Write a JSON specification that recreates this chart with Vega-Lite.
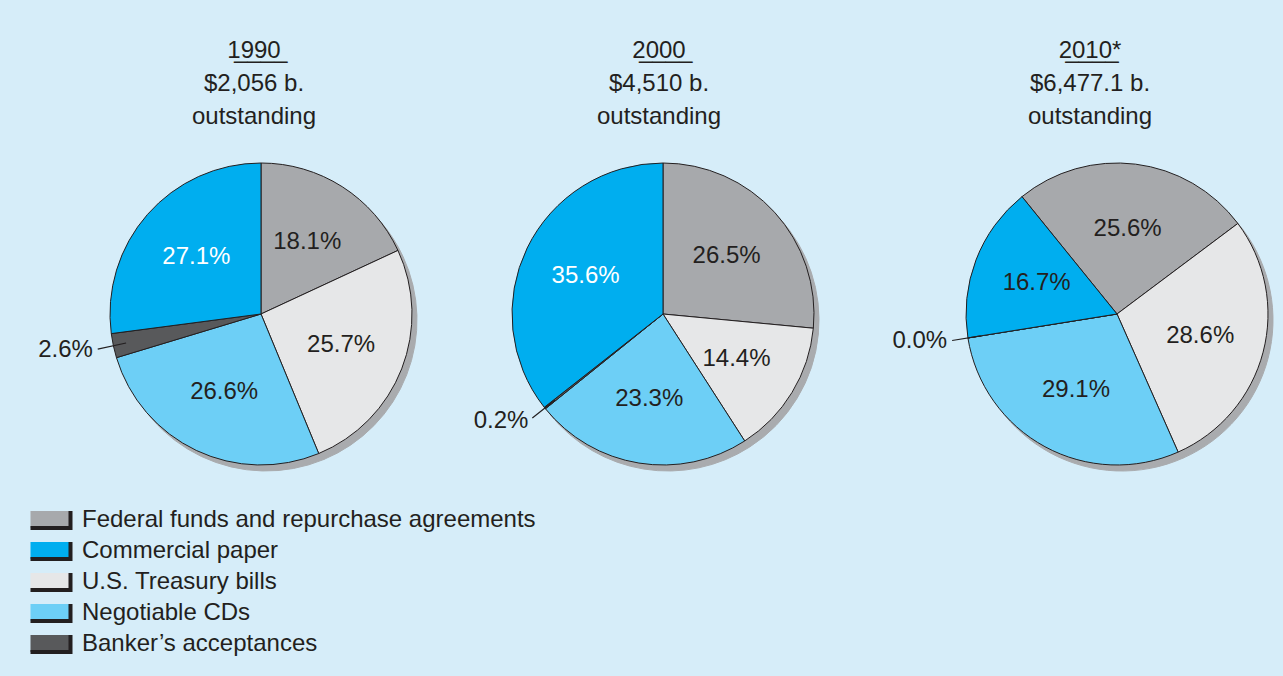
{
  "$schema": "https://vega.github.io/schema/vega-lite/v6.json",
  "background": "#d6edf9",
  "padding": {"left": 36, "right": 0, "top": 39, "bottom": 25},
  "bounds": "flush",
  "data": {
    "values": [
      {"year": 1990, "category": "Federal funds and repurchase agreements", "k": 1, "share": 0.181},
      {"year": 1990, "category": "U.S. Treasury bills", "k": 2, "share": 0.257},
      {"year": 1990, "category": "Negotiable CDs", "k": 3, "share": 0.266},
      {"year": 1990, "category": "Banker’s acceptances", "k": 4, "share": 0.026},
      {"year": 1990, "category": "Commercial paper", "k": 5, "share": 0.271},
      {"year": 2000, "category": "Federal funds and repurchase agreements", "k": 1, "share": 0.265},
      {"year": 2000, "category": "U.S. Treasury bills", "k": 2, "share": 0.144},
      {"year": 2000, "category": "Negotiable CDs", "k": 3, "share": 0.233},
      {"year": 2000, "category": "Banker’s acceptances", "k": 4, "share": 0.002},
      {"year": 2000, "category": "Commercial paper", "k": 5, "share": 0.356},
      {"year": 2010, "category": "Federal funds and repurchase agreements", "k": 1, "share": 0.256},
      {"year": 2010, "category": "U.S. Treasury bills", "k": 2, "share": 0.286},
      {"year": 2010, "category": "Negotiable CDs", "k": 3, "share": 0.291},
      {"year": 2010, "category": "Banker’s acceptances", "k": 4, "share": 0.0},
      {"year": 2010, "category": "Commercial paper", "k": 5, "share": 0.167}
    ]
  },
  "spacing": 138,
  "resolve": {"scale": {"theta": "independent"}},
  "hconcat": [
    {
      "width": 228,
      "height": 346,
      "title": {"text": ["1\u03329\u03329\u03320\u0332", "$2,056 b.", "outstanding"], "dx": -7},
      "transform": [{"filter": "datum.year === 1990"}],
      "encoding": {
        "theta": {"field": "share", "type": "quantitative", "stack": true},
        "order": {"field": "k", "type": "quantitative"}
      },
      "layer": [
        {"mark": {"type": "arc", "radius": 151, "xOffset": 5, "yOffset": 6, "fill": "#a9abae", "stroke": "#a9abae", "strokeWidth": 1}},
        {"mark": {"type": "arc", "radius": 151, "stroke": "#231f20", "strokeWidth": 1},
         "encoding": {"color": {"field": "category", "type": "nominal", "title": null,
           "scale": {"domain": ["Federal funds and repurchase agreements", "Commercial paper", "U.S. Treasury bills", "Negotiable CDs", "Banker’s acceptances"],
                     "range": ["#a7a9ac", "#00aeef", "#e6e7e8", "#6dcff6", "#58595b"]}}}},
        {"mark": {"type": "text", "radius": 86, "fontSize": 24, "font": "Liberation Sans"},
         "encoding": {
           "text": {"condition": {"test": "datum.share < 0.05", "value": ""}, "field": "share", "type": "quantitative", "format": ".1%"},
           "fill": {"condition": {"test": "datum.k === 5", "value": "#ffffff"}, "value": "#231f20"}
         }},
        {"mark": {"type": "text", "radius": 172, "align": "right", "baseline": "middle", "fontSize": 24, "font": "Liberation Sans", "fill": "#231f20"},
         "encoding": {"text": {"condition": {"test": "datum.k !== 4", "value": ""}, "field": "share", "type": "quantitative", "format": ".1%"}}},
        {"mark": {"type": "arc", "radius": 167, "radius2": 138, "padAngle": 0.6, "fill": "transparent", "strokeWidth": 1.2},
         "encoding": {"stroke": {"condition": {"test": "datum.k === 4", "value": "#231f20"}, "value": "transparent"}}}
      ]
    },
    {
      "width": 300,
      "height": 346,
      "title": {"text": ["2\u03320\u03320\u03320\u0332", "$4,510 b.", "outstanding"], "dx": -4},
      "transform": [{"filter": "datum.year === 2000"}],
      "encoding": {
        "theta": {"field": "share", "type": "quantitative", "stack": true},
        "order": {"field": "k", "type": "quantitative"}
      },
      "layer": [
        {"mark": {"type": "arc", "radius": 151, "xOffset": 5, "yOffset": 6, "fill": "#a9abae", "stroke": "#a9abae", "strokeWidth": 1}},
        {"mark": {"type": "arc", "radius": 151, "stroke": "#231f20", "strokeWidth": 1},
         "encoding": {"color": {"field": "category", "type": "nominal", "title": null}}},
        {"mark": {"type": "text", "radius": 86, "fontSize": 24, "font": "Liberation Sans"},
         "encoding": {
           "text": {"condition": {"test": "datum.share < 0.05", "value": ""}, "field": "share", "type": "quantitative", "format": ".1%"},
           "fill": {"condition": {"test": "datum.k === 5", "value": "#ffffff"}, "value": "#231f20"}
         }},
        {"mark": {"type": "text", "radius": 172, "align": "right", "baseline": "middle", "fontSize": 24, "font": "Liberation Sans", "fill": "#231f20"},
         "encoding": {"text": {"condition": {"test": "datum.k !== 4", "value": ""}, "field": "share", "type": "quantitative", "format": ".1%"}}},
        {"mark": {"type": "arc", "radius": 167, "radius2": 138, "padAngle": 0.6, "fill": "transparent", "strokeWidth": 1.2},
         "encoding": {"stroke": {"condition": {"test": "datum.k === 4", "value": "#231f20"}, "value": "transparent"}}}
      ]
    },
    {
      "width": 332,
      "height": 346,
      "title": {"text": ["2\u03320\u03321\u03320\u0332*", "$6,477.1 b.", "outstanding"], "dx": -27, "dy": 10},
      "transform": [{"filter": "datum.year === 2010"}],
      "encoding": {
        "theta": {"field": "share", "type": "quantitative", "stack": true, "scale": {"range": [-0.6807, 5.6025]}},
        "order": {"field": "k", "type": "quantitative"}
      },
      "layer": [
        {"mark": {"type": "arc", "radius": 151, "xOffset": 5, "yOffset": 6, "fill": "#a9abae", "stroke": "#a9abae", "strokeWidth": 1}},
        {"mark": {"type": "arc", "radius": 151, "stroke": "#231f20", "strokeWidth": 1},
         "encoding": {"color": {"field": "category", "type": "nominal", "title": null}}},
        {"mark": {"type": "text", "radius": 86, "fontSize": 24, "font": "Liberation Sans", "fill": "#231f20"},
         "encoding": {
           "text": {"condition": {"test": "datum.share < 0.05", "value": ""}, "field": "share", "type": "quantitative", "format": ".1%"}
         }},
        {"mark": {"type": "text", "radius": 172, "align": "right", "baseline": "middle", "fontSize": 24, "font": "Liberation Sans", "fill": "#231f20"},
         "encoding": {"text": {"condition": {"test": "datum.k !== 4", "value": ""}, "field": "share", "type": "quantitative", "format": ".1%"}}},
        {"mark": {"type": "arc", "radius": 167, "radius2": 138, "padAngle": 0.6, "fill": "transparent", "strokeWidth": 1.2},
         "encoding": {"stroke": {"condition": {"test": "datum.k === 4", "value": "#231f20"}, "value": "transparent"}}}
      ]
    }
  ],
  "config": {
    "view": {"stroke": null},
    "font": "Liberation Sans",
    "title": {"font": "Liberation Sans", "fontSize": 24, "fontWeight": "normal", "color": "#231f20", "lineHeight": 33, "offset": 12, "anchor": "middle"},
    "legend": {
      "orient": "none",
      "legendX": -111,
      "legendY": 364,
      "padding": 0,
      "symbolType": "M-1.6,-0.672H1.6V0.672H-1.6Z",
      "symbolSize": 625,
      "symbolStrokeColor": "#231f20",
      "symbolStrokeWidth": 4,
      "symbolDash": [0, 40, 56.8, 16.8],
      "symbolOpacity": 1,
      "labelFont": "Liberation Sans",
      "labelFontSize": 24,
      "labelColor": "#231f20",
      "labelOffset": 17,
      "labelLimit": 600,
      "rowPadding": -5
    }
  }
}
